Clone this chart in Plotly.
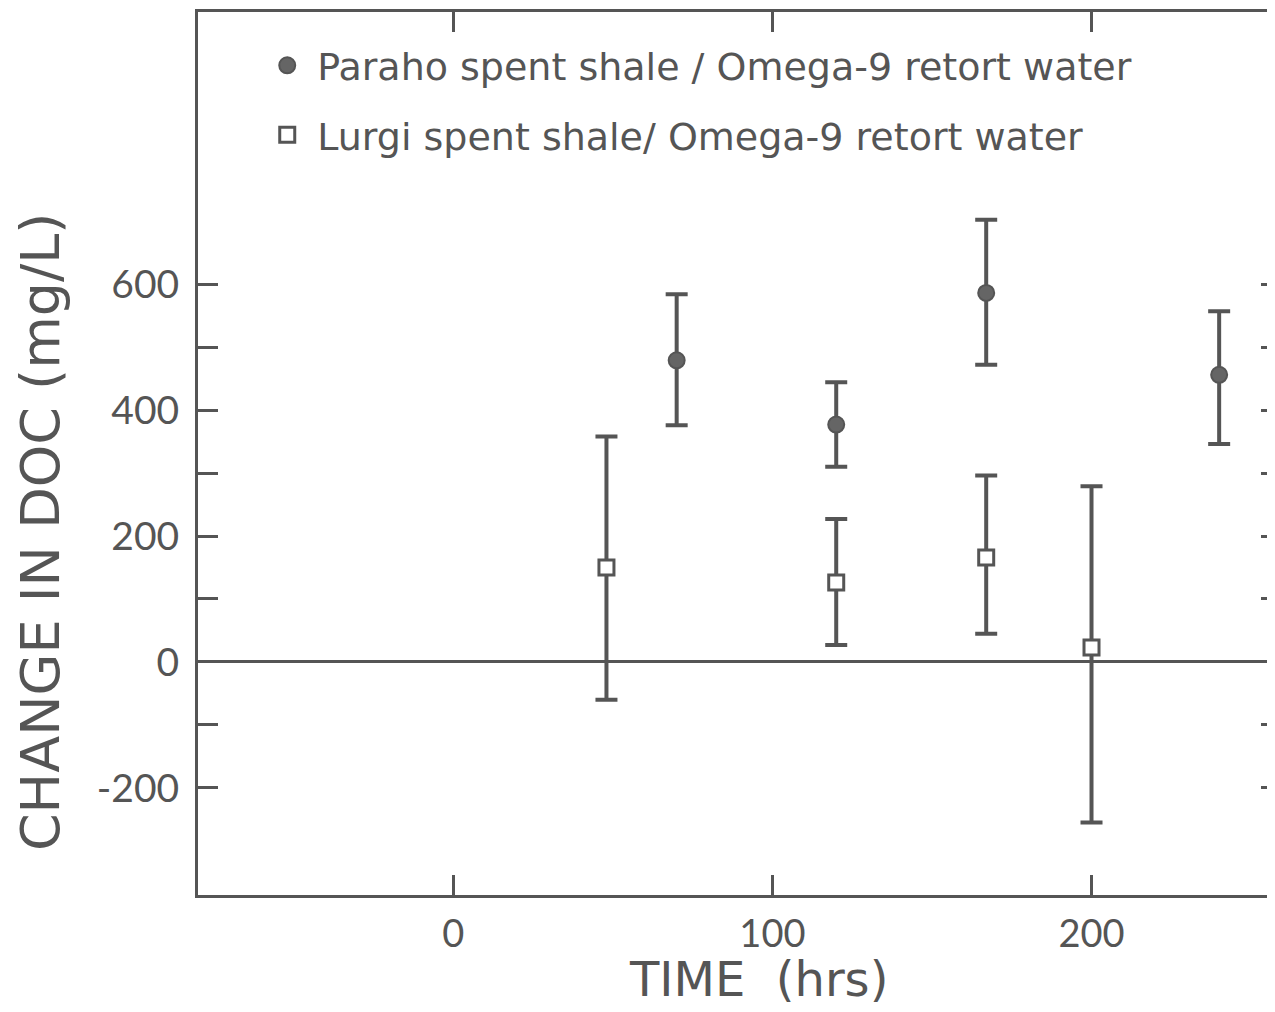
import plotly.graph_objects as go

# Data
paraho_time = [70, 120, 167, 240]
paraho_doc = [479, 377, 586, 456]
paraho_err_plus = [105, 67, 116, 101]
paraho_err_minus = [103, 67, 114, 110]

lurgi_time = [48, 120, 167, 200]
lurgi_doc = [150, 126, 166, 23]
lurgi_err_plus = [208, 101, 130, 256]
lurgi_err_minus = [210, 99, 121, 278]

x_tick_vals = [0, 100, 200]
x_tick_text = ["0", "100", "200"]
y_tick_vals = [-200, -100, 0, 100, 200, 300, 400, 500, 600]
y_tick_text = ["-200", "", "0", "", "200", "", "400", "", "600"]

INK = "#555555"
TICKFONT = "Lato, DejaVu Sans, sans-serif"
FONT = "DejaVu Sans, sans-serif"

fig = go.Figure()

fig.add_trace(go.Scatter(
    x=paraho_time, y=paraho_doc, mode="markers",
    name="Paraho spent shale / Omega-9 retort water",
    legendgroup="a",
    marker=dict(symbol="circle", size=16, color="#656565", line=dict(color=INK, width=2)),
    error_y=dict(type="data", array=paraho_err_plus, arrayminus=paraho_err_minus,
                 color=INK, thickness=4, width=11),
))
fig.add_trace(go.Scatter(
    x=lurgi_time, y=lurgi_doc, mode="markers",
    name="Lurgi spent shale/ Omega-9 retort water",
    legendgroup="b",
    marker=dict(symbol="square", size=15, color="white", line=dict(color=INK, width=3)),
    error_y=dict(type="data", array=lurgi_err_plus, arrayminus=lurgi_err_minus,
                 color=INK, thickness=4, width=11),
))
# invisible trace on the secondary y axis to carry the right-side ticks
fig.add_trace(go.Scatter(x=[None], y=[None], yaxis="y2", showlegend=False, hoverinfo="skip"))

fig.update_layout(
    width=1267, height=1004,
    margin=dict(l=190, r=0, t=4, b=117),
    paper_bgcolor="white", plot_bgcolor="white",
    font=dict(family=FONT, color=INK),
    showlegend=True,
    legend=dict(x=0.055, y=0.975, xanchor="left", yanchor="top",
                font=dict(size=38, family=FONT, color=INK),
                bgcolor="rgba(0,0,0,0)", tracegroupgap=17, itemwidth=50),
    xaxis=dict(range=[-80, 257.5], tickvals=x_tick_vals, ticktext=x_tick_text,
               ticks="inside", ticklen=20, tickwidth=3, tickcolor=INK,
               showline=True, linewidth=3, linecolor=INK, mirror="ticks",
               showgrid=False, zeroline=False,
               tickfont=dict(size=38, family=TICKFONT, color=INK), ticklabelstandoff=3),
    yaxis=dict(range=[-370, 1032], tickvals=y_tick_vals, ticktext=y_tick_text,
               ticks="inside", ticklen=20, tickwidth=3, tickcolor=INK,
               showline=True, linewidth=3, linecolor=INK, mirror=False,
               showgrid=False, zeroline=True, zerolinecolor=INK, zerolinewidth=3,
               tickfont=dict(size=39, family=TICKFONT, color=INK), ticklabelstandoff=8),
    yaxis2=dict(range=[-370, 1032], overlaying="y", side="right", tickvals=y_tick_vals,
                showticklabels=False, ticks="inside", ticklen=14, tickwidth=3, tickcolor=INK,
                showline=False, showgrid=False, zeroline=False),
    annotations=[
        dict(text="CHANGE IN DOC (mg/L)", xref="paper", yref="paper",
             x=-0.1467, y=0.411, xanchor="center", yanchor="middle", textangle=-90,
             showarrow=False, font=dict(size=54, family=FONT, color=INK)),
        dict(text="TIME\u00a0 (hrs)", xref="paper", yref="paper",
             x=0.52, y=-0.095, xanchor="center", yanchor="middle",
             showarrow=False, font=dict(size=48, family=FONT, color=INK)),
    ],
)

fig.write_html("out.html")
